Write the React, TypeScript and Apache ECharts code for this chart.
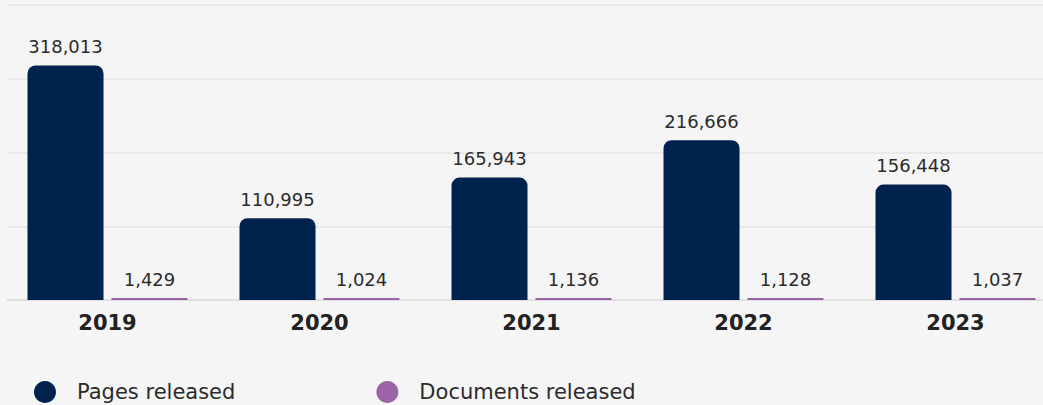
import React, { useEffect, useRef } from "react";
import * as echarts from "echarts";

const categories = ["2019", "2020", "2021", "2022", "2023"];
const pagesReleased = [318013, 110995, 165943, 216666, 156448];
const documentsReleased = [1429, 1024, 1136, 1128, 1037];
const seriesNames = ["Pages released", "Documents released"];

const FONT = "DejaVu Sans, Verdana, sans-serif";

export default function App() {
  const ref = useRef<HTMLDivElement>(null);
  useEffect(() => {
    if (!ref.current) return;
    const chart = echarts.init(ref.current, null, { renderer: "svg" });
    const label = {
      show: true,
      position: "top",
      distance: 10,
      color: "#2b2b2b",
      fontSize: 18,
      fontFamily: FONT,
      formatter: (p: any) => Number(p.value).toLocaleString("en-US"),
    };
    chart.setOption({
      animation: false,
      backgroundColor: "#f5f5f5",
      grid: {
        left: 1.5,
        width: 1060,
        top: 5,
        bottom: 105,
        containLabel: false,
        outerBoundsMode: "none",
      },
      legend: {
        left: 29,
        top: 376,
        icon: "circle",
        itemWidth: 22,
        itemHeight: 22,
        itemGap: 141,
        textStyle: {
          fontSize: 21,
          fontFamily: FONT,
          color: "#2b2b2b",
          padding: [0, 0, 0, 16],
        },
        data: seriesNames,
      },
      xAxis: {
        type: "category",
        data: categories,
        axisLine: { show: true, lineStyle: { color: "#dcdcdc", width: 1.5 } },
        axisTick: { show: false },
        axisLabel: {
          margin: 12,
          fontSize: 21,
          fontWeight: "bold",
          fontFamily: FONT,
          color: "#222222",
        },
      },
      yAxis: {
        type: "value",
        min: 0,
        max: 400000,
        interval: 100000,
        axisLabel: { show: false },
        axisLine: { show: false },
        axisTick: { show: false },
        splitLine: { lineStyle: { color: "#e4e4e4", width: 1.5 } },
      },
      series: [
        {
          name: seriesNames[0],
          type: "bar",
          data: pagesReleased,
          barWidth: 76,
          barGap: "10.5%",
          itemStyle: { color: "#00234d", borderRadius: [8, 8, 0, 0] },
          label,
        },
        {
          name: seriesNames[1],
          type: "bar",
          data: documentsReleased,
          barWidth: 76,
          barMinHeight: 2,
          itemStyle: { color: "#9c64a6" },
          label: { ...label, distance: 10 },
        },
      ],
      graphic: [
        {
          type: "rect",
          shape: { x: 0, y: 0, width: 7, height: 302 },
          style: { fill: "#f5f5f5" },
          z: 100,
        },
      ],
    });
    return () => chart.dispose();
  }, []);
  return <div ref={ref} style={{ width: 1043, height: 405, position: "absolute", left: 0, top: 0 }} />;
}
